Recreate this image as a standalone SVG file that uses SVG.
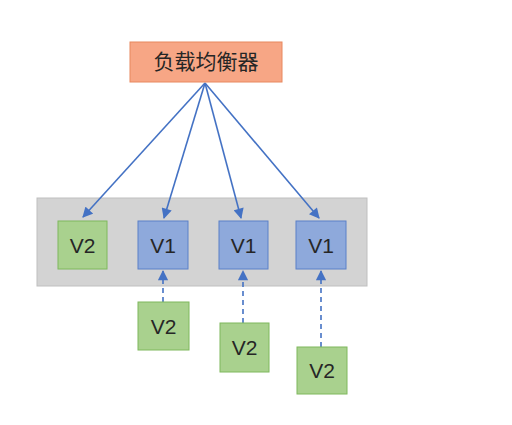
<svg xmlns="http://www.w3.org/2000/svg" width="512" height="425" viewBox="0 0 512 425">
<style>
.lb{fill:#F7A685;stroke:#E8885E;stroke-width:1}
.g{fill:#A9D18E;stroke:#7FB85C;stroke-width:1}
.b{fill:#8EA9DB;stroke:#5B80C8;stroke-width:1}
.t{font-family:"Liberation Sans","Noto Sans",sans-serif;font-size:21px;fill:#262626;text-anchor:middle}
.cn{font-family:"Noto Sans CJK SC",sans-serif;font-size:21px;fill:#262626;text-anchor:middle}
.a{stroke:#4472C4;stroke-width:1.6;fill:none;marker-end:url(#ah)}
.d{stroke-dasharray:5 4}
</style>
<defs>
<marker id="ah" viewBox="0 0 10 10" refX="9" refY="5" markerWidth="7" markerHeight="6.5" orient="auto-start-reverse" markerUnits="strokeWidth">
<path d="M0,0 L10,5 L0,10 z" fill="#4472C4"/>
</marker>
</defs>
<rect width="512" height="425" fill="#FFFFFF"/>
<rect id="band" x="37" y="198" width="330" height="88" fill="#D3D3D3" stroke="#BFBFBF"/>
<g id="connectors">
<path class="a" d="M205,83 L83,217"/>
<path class="a" d="M205,83 L164,218"/>
<path class="a" d="M205,83 L241,218"/>
<path class="a" d="M205,83 L319,218"/>
<path class="a d" d="M163,302 L163,271"/>
<path class="a d" d="M243,323 L243,271"/>
<path class="a d" d="M321,347 L321,271"/>
</g>
<g id="lb"><rect class="lb" x="130" y="42" width="152" height="40"/><text class="cn" x="206" y="69">负载均衡器</text></g>
<g id="n1"><rect class="g" x="58" y="221" width="49" height="48"/><text class="t" x="82.5" y="252.5">V2</text></g>
<g id="n2"><rect class="b" x="138" y="221" width="50" height="48"/><text class="t" x="163" y="252.5">V1</text></g>
<g id="n3"><rect class="b" x="219" y="221" width="49" height="48"/><text class="t" x="243.5" y="252.5">V1</text></g>
<g id="n4"><rect class="b" x="296" y="221" width="50" height="48"/><text class="t" x="321" y="252.5">V1</text></g>
<g id="n5"><rect class="g" x="138" y="302" width="51" height="48"/><text class="t" x="163.5" y="333.5">V2</text></g>
<g id="n6"><rect class="g" x="220" y="323" width="49" height="49"/><text class="t" x="244.5" y="355">V2</text></g>
<g id="n7"><rect class="g" x="297" y="347" width="50" height="47"/><text class="t" x="322" y="378">V2</text></g>
</svg>
